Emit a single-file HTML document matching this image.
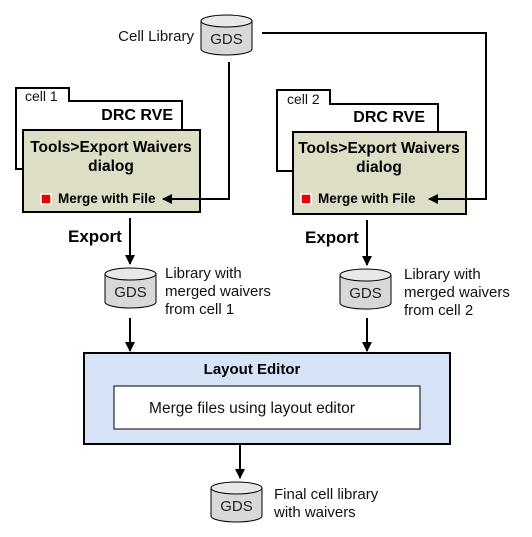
<!DOCTYPE html>
<html><head><style>
body{margin:0;width:532px;height:532px;background:#fff;overflow:hidden}
svg text{font-family:"Liberation Sans",Arial,sans-serif}
</style></head><body>
<svg width="532" height="532" viewBox="0 0 532 532" xmlns="http://www.w3.org/2000/svg">
<defs>
<marker id="a" markerWidth="10" markerHeight="10" refX="9" refY="5" orient="auto" markerUnits="userSpaceOnUse"><path d="M0,0 L10,5 L0,10 z" fill="#000"/></marker>
<g id="gds">
<path d="M0,6 L0,34 A25.5,6 0 0 0 51,34 L51,6" fill="#d8d8d8" stroke="#000" stroke-width="1"/>
<ellipse cx="25.5" cy="6" rx="25.5" ry="6" fill="#e8e8e8" stroke="#000" stroke-width="1"/>
<text x="25.5" y="29" font-size="15" text-anchor="middle" fill="#222">GDS</text>
</g>
</defs>

<!-- Cell library -->
<text x="194" y="41" font-size="15" text-anchor="end" fill="#111">Cell Library</text>
<use href="#gds" x="201" y="15"/>

<!-- cell 1 -->
<path d="M16,169 L16,88 L69,88 L69,101 L182,101 L182,169 Z" fill="#fff" stroke="#000" stroke-width="2"/>
<text x="25" y="101" font-size="14" fill="#111">cell 1</text>
<text x="173" y="120" font-size="16" font-weight="bold" text-anchor="end">DRC RVE</text>
<rect x="23" y="130" width="177" height="82" fill="#dedec6" stroke="#000" stroke-width="2"/>
<text x="111" y="152" font-size="15.5" font-weight="bold" text-anchor="middle">Tools&gt;Export Waivers</text>
<text x="111" y="171" font-size="15.5" font-weight="bold" text-anchor="middle">dialog</text>
<rect x="41" y="194" width="10" height="10" fill="#e00" stroke="#fff" stroke-width="1.5"/>
<text x="58" y="203" font-size="13.5" font-weight="bold">Merge with File</text>
<text x="68" y="242" font-size="17" font-weight="bold">Export</text>
<line x1="130" y1="218" x2="130" y2="264" stroke="#000" stroke-width="2" marker-end="url(#a)"/>
<use href="#gds" x="105" y="268"/>
<text x="165" y="278" font-size="15" fill="#111">Library with</text>
<text x="165" y="296" font-size="15" fill="#111">merged waivers</text>
<text x="165" y="314" font-size="15" fill="#111">from cell 1</text>
<line x1="130" y1="318" x2="130" y2="351" stroke="#000" stroke-width="2" marker-end="url(#a)"/>

<!-- cell 2 -->
<path d="M277,171 L277,90 L330,90 L330,104 L438,104 L438,171 Z" fill="#fff" stroke="#000" stroke-width="2"/>
<text x="287" y="104" font-size="14" fill="#111">cell 2</text>
<text x="425" y="122" font-size="16" font-weight="bold" text-anchor="end">DRC RVE</text>
<rect x="293" y="132" width="173" height="82" fill="#dedec6" stroke="#000" stroke-width="2"/>
<text x="379" y="153" font-size="15.5" font-weight="bold" text-anchor="middle">Tools&gt;Export Waivers</text>
<text x="379" y="172" font-size="15.5" font-weight="bold" text-anchor="middle">dialog</text>
<rect x="301" y="194" width="10" height="10" fill="#e00" stroke="#fff" stroke-width="1.5"/>
<text x="318" y="203" font-size="13.5" font-weight="bold">Merge with File</text>
<text x="305" y="243" font-size="17" font-weight="bold">Export</text>
<line x1="367" y1="220" x2="367" y2="265" stroke="#000" stroke-width="2" marker-end="url(#a)"/>
<use href="#gds" x="340" y="269"/>
<text x="404" y="279" font-size="15" fill="#111">Library with</text>
<text x="404" y="297" font-size="15" fill="#111">merged waivers</text>
<text x="404" y="315" font-size="15" fill="#111">from cell 2</text>
<line x1="367" y1="318" x2="367" y2="351" stroke="#000" stroke-width="2" marker-end="url(#a)"/>

<!-- connectors from cell library (on top) -->
<polyline points="262,33 486,33 486,199 429,199" fill="none" stroke="#000" stroke-width="2" marker-end="url(#a)"/>
<polyline points="229,62 229,199 163,199" fill="none" stroke="#000" stroke-width="2" marker-end="url(#a)"/>

<!-- Layout editor -->
<rect x="84" y="353" width="366" height="91" fill="#d6e2f6" stroke="#000" stroke-width="2"/>
<text x="252" y="374" font-size="15" font-weight="bold" text-anchor="middle">Layout Editor</text>
<rect x="114" y="386" width="306" height="43" fill="#fff" stroke="#000" stroke-width="1"/>
<text x="252" y="413" font-size="15.5" text-anchor="middle" fill="#111">Merge files using layout editor</text>
<line x1="240" y1="445" x2="240" y2="478" stroke="#000" stroke-width="2" marker-end="url(#a)"/>
<use href="#gds" x="211" y="482"/>
<text x="274" y="499" font-size="15" fill="#111">Final cell library</text>
<text x="274" y="517" font-size="15" fill="#111">with waivers</text>
</svg>
</body></html>
